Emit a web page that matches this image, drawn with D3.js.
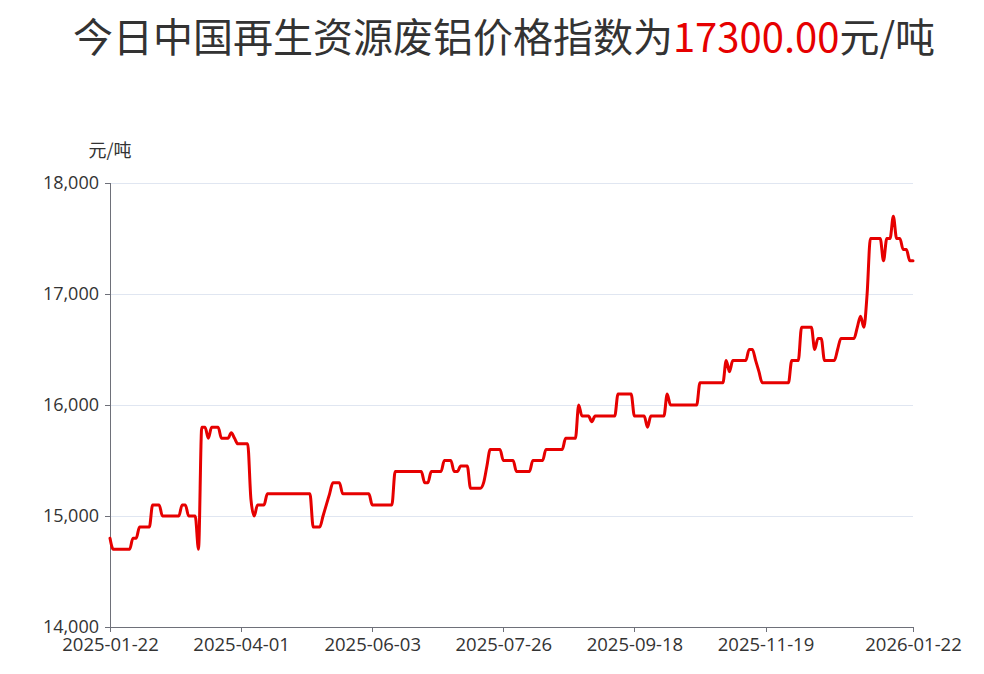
<!DOCTYPE html>
<html>
<head>
<meta charset="utf-8">
<script src="https://cdn.jsdelivr.net/npm/d3@7/dist/d3.min.js"></script>
<style>
  html, body { margin: 0; padding: 0; background: #fff; }
  svg { display: block; font-family: "Noto Sans CJK SC", "Noto Sans", sans-serif; }
</style>
</head>
<body>
<svg id="chart" width="984" height="674"></svg>
<script>
// ---- data ----
const titlePrefix = "今日中国再生资源废铝价格指数为";
const titleValue = "17300.00";
const titleUnit = "元/吨";
const yAxisName = "元/吨";
const yTicks = [14000, 15000, 16000, 17000, 18000];
const xTickLabels = ["2025-01-22", "2025-04-01", "2025-06-03", "2025-07-26", "2025-09-18", "2025-11-19", "2026-01-22"];
const xTickIndex = [0, 40, 80, 120, 160, 200, 245];
const prices = [
  14800,14700,14700,14700,14700,14700,14700,14800,14800,14900,
  14900,14900,14900,15100,15100,15100,15000,15000,15000,15000,
  15000,15000,15100,15100,15000,15000,15000,14700,15800,15800,
  15700,15800,15800,15800,15700,15700,15700,15750,15700,15650,
  15650,15650,15650,15150,15000,15100,15100,15100,15200,15200,
  15200,15200,15200,15200,15200,15200,15200,15200,15200,15200,
  15200,15200,14900,14900,14900,15000,15100,15200,15300,15300,
  15300,15200,15200,15200,15200,15200,15200,15200,15200,15200,
  15100,15100,15100,15100,15100,15100,15100,15400,15400,15400,
  15400,15400,15400,15400,15400,15400,15300,15300,15400,15400,
  15400,15400,15500,15500,15500,15400,15400,15450,15450,15450,
  15250,15250,15250,15250,15300,15450,15600,15600,15600,15600,
  15500,15500,15500,15500,15400,15400,15400,15400,15400,15500,
  15500,15500,15500,15600,15600,15600,15600,15600,15600,15700,
  15700,15700,15700,16000,15900,15900,15900,15850,15900,15900,
  15900,15900,15900,15900,15900,16100,16100,16100,16100,16100,
  15900,15900,15900,15900,15800,15900,15900,15900,15900,15900,
  16100,16000,16000,16000,16000,16000,16000,16000,16000,16000,
  16200,16200,16200,16200,16200,16200,16200,16200,16400,16300,
  16400,16400,16400,16400,16400,16500,16500,16400,16300,16200,
  16200,16200,16200,16200,16200,16200,16200,16200,16400,16400,
  16400,16700,16700,16700,16700,16500,16600,16600,16400,16400,
  16400,16400,16500,16600,16600,16600,16600,16600,16700,16800,
  16700,17000,17500,17500,17500,17500,17300,17500,17500,17700,
  17500,17500,17400,17400,17300,17300
];

// ---- layout ----
const svg = d3.select("#chart");
const plotLeft = 110, plotRight = 913, plotTop = 183, plotBottom = 627;

const x = d3.scaleLinear().domain([0, prices.length - 1]).range([plotLeft, plotRight]);
const y = d3.scaleLinear().domain([14000, 18000]).range([plotBottom, plotTop]);

// title
const title = svg.append("text")
  .attr("x", 504).attr("y", 52)
  .attr("text-anchor", "middle")
  .style("font-size", "40px")
  .attr("fill", "#333");
title.append("tspan").text(titlePrefix);
title.append("tspan").attr("fill", "#e60000").text(titleValue);
title.append("tspan").text(titleUnit);

// grid lines
svg.append("g").selectAll("line")
  .data(yTicks.filter(d => d !== 14000))
  .join("line")
  .attr("x1", plotLeft).attr("x2", plotRight)
  .attr("y1", d => y(d)).attr("y2", d => y(d))
  .attr("stroke", "#e0e6f1").attr("stroke-width", 1)
  .attr("shape-rendering", "crispEdges");

// y axis
const yAxis = svg.append("g")
  .attr("transform", `translate(${plotLeft},0)`)
  .call(d3.axisLeft(y).tickValues(yTicks).tickSize(5).tickPadding(6).tickFormat(d3.format(",")));
yAxis.select(".domain").attr("stroke", "#6e7079").attr("shape-rendering", "crispEdges");
yAxis.selectAll(".tick line").attr("stroke", "#6e7079").attr("shape-rendering", "crispEdges");
yAxis.selectAll(".tick text").attr("fill", "#333").style("font-size", "18px")
  .style("font-family", "'Open Sans', 'Noto Sans', sans-serif");

// y axis name
svg.append("text")
  .attr("x", plotLeft).attr("y", 157)
  .attr("text-anchor", "middle")
  .style("font-size", "18px")
  .attr("fill", "#333")
  .text(yAxisName);

// x axis
const xAxis = svg.append("g")
  .attr("transform", `translate(0,${plotBottom})`)
  .call(d3.axisBottom(x).tickValues(xTickIndex).tickSize(5).tickPadding(6)
    .tickFormat((d, i) => xTickLabels[i]));
xAxis.select(".domain").attr("stroke", "#6e7079").attr("shape-rendering", "crispEdges");
xAxis.selectAll(".tick line").attr("stroke", "#6e7079").attr("shape-rendering", "crispEdges");
xAxis.selectAll(".tick text").attr("fill", "#333").style("font-size", "18.5px")
  .style("font-family", "'Open Sans', 'Noto Sans', sans-serif");

// line
const line = d3.line()
  .x((d, i) => x(i))
  .y(d => y(d))
  .curve(d3.curveMonotoneX);

svg.append("path")
  .datum(prices)
  .attr("d", line)
  .attr("fill", "none")
  .attr("stroke", "#e60000")
  .attr("stroke-width", 3)
  .attr("stroke-linejoin", "round")
  .attr("stroke-linecap", "round");
</script>
</body>
</html>
